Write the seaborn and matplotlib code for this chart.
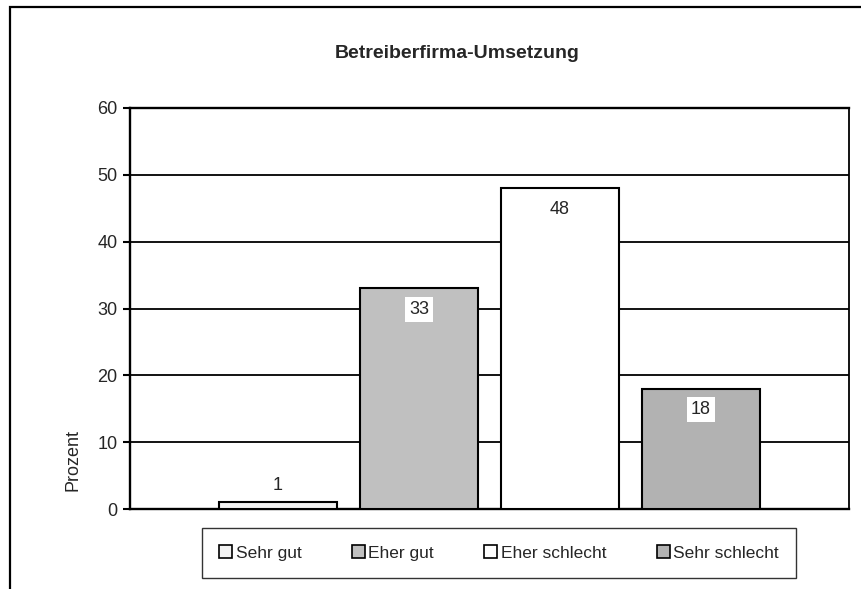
import matplotlib
matplotlib.use('Agg')
import matplotlib.pyplot as plt
from matplotlib.patches import Patch, Rectangle
import seaborn as sns

categories = ['Sehr gut', 'Eher gut', 'Eher schlecht', 'Sehr schlecht']
values = [1, 33, 48, 18]
colors = ['#F2F2F2', '#C0C0C0', '#FFFFFF', '#B2B2B2']
yticks = [0, 10, 20, 30, 40, 50, 60]

sns.set_style('white')
plt.rcParams['font.family'] = ['Liberation Sans', 'DejaVu Sans']

fig = plt.figure(figsize=(8.62, 5.89), dpi=100)
ax = fig.add_axes([130 / 862, 1 - 509 / 589, 719 / 862, 401 / 589])

sns.barplot(x=categories, y=values, hue=categories, palette=colors, width=0.84,
            edgecolor='black', linewidth=1.5, legend=False, ax=ax, zorder=3)

ax.set_xlim(-1.05, 4.05)
ax.set_ylim(0, 60)
ax.set_yticks(yticks)
ax.set_xticks([])
ax.set_xlabel('')
ax.set_ylabel('')
ax.tick_params(axis='y', direction='out', length=5, width=1.5, color='black', labelsize=13, pad=4)
ax.yaxis.set_ticks_position('left')
ax.grid(axis='y', color='black', linewidth=1.3, zorder=0)
ax.set_axisbelow(True)
for side in ['left', 'bottom', 'top']:
    ax.spines[side].set_color('black')
    ax.spines[side].set_linewidth(1.7)
ax.spines['right'].set_color('black')
ax.spines['right'].set_linewidth(1.3)

# data labels
for i, v in enumerate(values):
    if v < 5:
        ax.annotate(str(v), xy=(i, v), xytext=(0, 12), textcoords='offset points',
                    ha='center', va='center', fontsize=13, zorder=5)
    else:
        ax.annotate(str(v), xy=(i, v), xytext=(0, -15), textcoords='offset points',
                    ha='center', va='center', fontsize=13, zorder=5,
                    bbox=dict(facecolor='white', edgecolor='none', pad=3))

fig.text(457 / 862, 1 - 53 / 589, 'Betreiberfirma-Umsetzung', ha='center', va='center',
         fontsize=14, fontweight='bold')
fig.text(73 / 862, 1 - 460 / 589, 'Prozent', rotation=90, ha='center', va='center', fontsize=13)

# outer chart frame
fig.patches.append(Rectangle((10 / 862, -0.2), 1.2, 1 - 7 / 589 + 0.2, transform=fig.transFigure,
                             fill=False, edgecolor='black', linewidth=1.6))

handles = [Patch(facecolor=c, edgecolor='black', linewidth=1.2) for c in colors]
leg = fig.legend(handles, categories, ncol=4, loc='center', bbox_to_anchor=(499 / 862, 1 - 553 / 589),
                 frameon=True, fancybox=False, fontsize=12.5, handlelength=0.75, handleheight=0.75,
                 handletextpad=0.2, columnspacing=2.9, borderpad=1.0, edgecolor='black')
leg.get_frame().set_linewidth(1.0)

fig.savefig('out.png', dpi=100)
